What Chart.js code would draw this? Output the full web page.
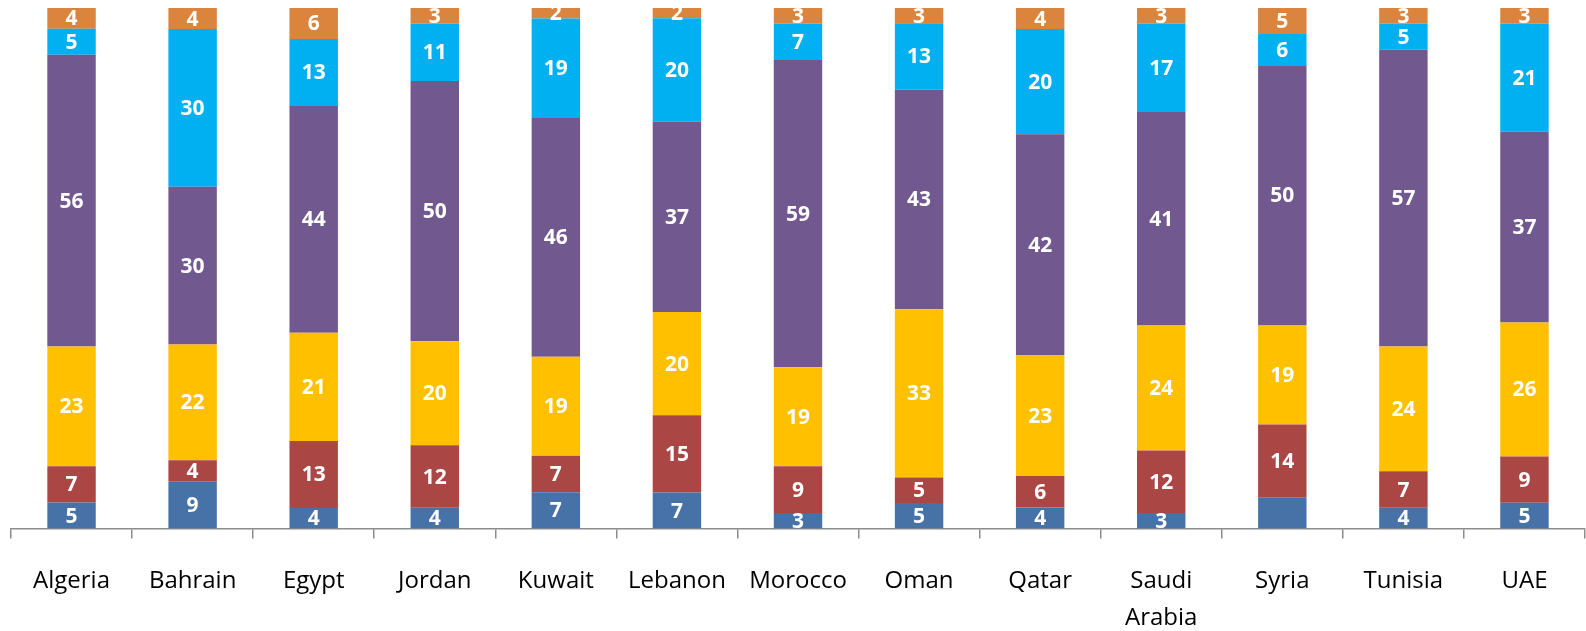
<!DOCTYPE html>
<html>
<head>
<meta charset="utf-8">
<script src="https://cdn.jsdelivr.net/npm/chart.js@4/dist/chart.umd.min.js"></script>
<style>
  html, body { margin: 0; padding: 0; background: #fff; }
  #wrap { width: 1586px; height: 631px; }
</style>
</head>
<body>
<div id="wrap"><canvas id="myChart" width="1586" height="631"></canvas></div>
<script>
const countries = ['Algeria', 'Bahrain', 'Egypt', 'Jordan', 'Kuwait', 'Lebanon', 'Morocco', 'Oman', 'Qatar', ['Saudi', 'Arabia'], 'Syria', 'Tunisia', 'UAE'];

// segments from bottom to top
const blueVals   = [5, 9, 4, 4, 7, 7, 3, 5, 4, 3, 6, 4, 5];
const redVals    = [7, 4, 13, 12, 7, 15, 9, 5, 6, 12, 14, 7, 9];
const yellowVals = [23, 22, 21, 20, 19, 20, 19, 33, 23, 24, 19, 24, 26];
const purpleVals = [56, 30, 44, 50, 46, 37, 59, 43, 42, 41, 50, 57, 37];
const cyanVals   = [5, 30, 13, 11, 19, 20, 7, 13, 20, 17, 6, 5, 21];
const orangeVals = [4, 4, 6, 3, 2, 2, 3, 3, 4, 3, 5, 3, 3];

// Syria's blue segment carries no label in the original
const hiddenLabels = [[0, 10]];

const series = [
    { vals: blueVals,   color: '#4672A7' },
    { vals: redVals,    color: '#AA4643' },
    { vals: yellowVals, color: '#FFC000' },
    { vals: purpleVals, color: '#71588F' },
    { vals: cyanVals,   color: '#00B0F0' },
    { vals: orangeVals, color: '#DB843D' }
];

// 100% stacked: scale each column to its total
const totals = countries.map((c, i) => series.reduce((s, d) => s + d.vals[i], 0));

const segmentLabels = {
    id: 'segmentLabels',
    afterDatasetsDraw(chart) {
        const ctx = chart.ctx;
        ctx.save();
        ctx.fillStyle = '#fff';
        ctx.font = 'bold 21px "Open Sans", sans-serif';
        ctx.textAlign = 'center';
        ctx.textBaseline = 'middle';
        chart.data.datasets.forEach((ds, di) => {
            chart.getDatasetMeta(di).data.forEach((bar, i) => {
                if (hiddenLabels.some(h => h[0] === di && h[1] === i)) return;
                const mid = (bar.y + bar.base) / 2;
                ctx.fillText(String(ds.raw[i]), bar.x, mid + 1);
            });
        });
        ctx.restore();
    }
};

document.addEventListener('DOMContentLoaded', () => {
    let bar = document.getElementById('myChart').getContext('2d');
    let myChart = new Chart(bar, {
        type: 'bar',
        data: {
            labels: countries,
            datasets: series.map(s => ({
                data: s.vals.map((v, i) => v / totals[i] * 100),
                raw: s.vals,
                backgroundColor: s.color,
                categoryPercentage: 1,
                barPercentage: 0.4
            }))
        },
        options: {
            responsive: false,
            animation: false,
            layout: { padding: { left: 11, right: 1, top: 8, bottom: -30 } },
            plugins: {
                legend: { display: false },
                tooltip: { enabled: false }
            },
            scales: {
                x: {
                    stacked: true,
                    border: { color: '#8c8c8c', width: 1.5 },
                    grid: { drawOnChartArea: false, drawTicks: true, tickLength: 10, color: '#8c8c8c', lineWidth: 1.5 },
                    ticks: {
                        color: '#000',
                        padding: 24,
                        maxRotation: 0,
                        autoSkip: false,
                        font: { family: '"Open Sans", sans-serif', size: 24, lineHeight: 1.55 }
                    }
                },
                y: {
                    stacked: true,
                    display: false,
                    min: 0,
                    max: 100
                }
            }
        },
        plugins: [segmentLabels]
    });
});
</script>
</body>
</html>
